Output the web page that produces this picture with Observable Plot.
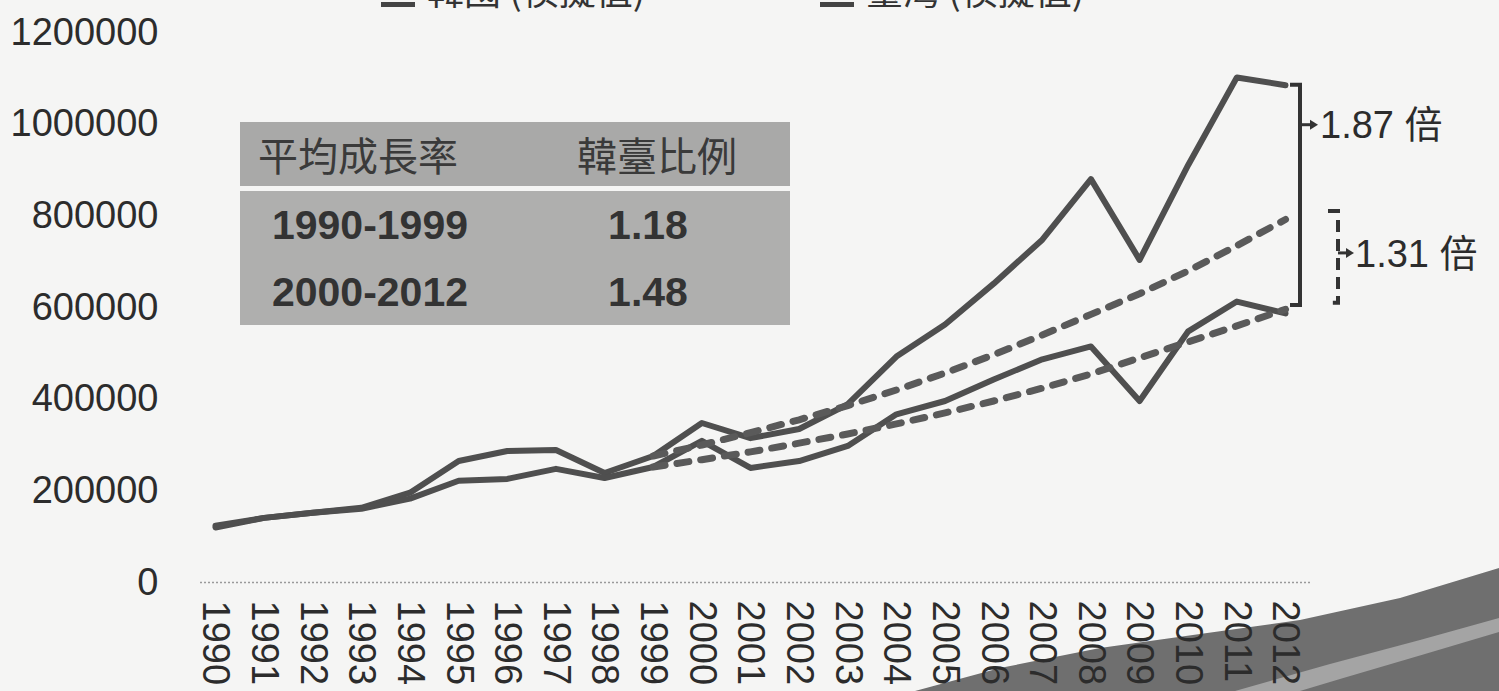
<!DOCTYPE html>
<html><head><meta charset="utf-8">
<script src="https://cdn.jsdelivr.net/npm/d3@7"></script>
<script src="https://cdn.jsdelivr.net/npm/@observablehq/plot@0.6"></script>
<style>
html,body{margin:0;padding:0;background:#f5f5f4;overflow:hidden;}
#wrap{position:relative;width:1499px;height:691px;font-family:"Liberation Sans",Arial,sans-serif;color:#2e2e2e;overflow:hidden;}
#swoosh{position:absolute;left:0;top:0;width:1499px;height:691px;background:#6f6f6f;
  clip-path:polygon(915px 691px,1000px 668px,1100px 648px,1200px 634px,1300px 620px,1400px 598px,1499px 568px,1499px 691px);}
#stripe{position:absolute;left:0;top:0;width:1499px;height:691px;background:#a4a4a4;
  clip-path:polygon(1235px 691px,1330px 664px,1420px 640px,1499px 618px,1499px 632px,1425px 654px,1340px 679px,1300px 691px);}
#chart{position:absolute;left:0;top:0;}
#legend{position:absolute;left:0;top:0;width:1499px;height:40px;font-family:"Noto Sans CJK TC",sans-serif;font-size:37px;}
#legend span{position:absolute;top:-33px;white-space:nowrap;line-height:44px;color:#333;}
#legend i{position:absolute;top:2px;height:5px;width:34px;background:#444;}
#table{position:absolute;left:240px;top:122px;width:550px;height:203px;}
.row{position:absolute;left:0;width:550px;display:flex;align-items:center;}
.hdr{top:0;height:64px;background:#a9a9a8;font-family:"Noto Sans CJK TC",sans-serif;font-size:40px;font-weight:400;color:#3a3a3a;}
.body{top:69px;height:134px;background:#afafae;}
.cell{position:absolute;text-align:center;white-space:nowrap;}
.num{font-family:"Liberation Sans",Arial,sans-serif;font-weight:bold;font-size:41px;color:#333;}
</style></head>
<body>
<div id="wrap">
  <div id="swoosh"></div>
  <div id="stripe"></div>
  <div id="chart"></div>
  <div id="legend"></div>
  <div id="table"></div>
</div>
<script>
// ---- data ----
const years = [1990,1991,1992,1993,1994,1995,1996,1997,1998,1999,2000,2001,2002,2003,2004,2005,2006,2007,2008,2009,2010,2011,2012];
const korea  = [124000,141000,152000,163000,196000,265000,287000,289000,239000,276000,348000,315000,335000,389000,493000,563000,652000,748000,880000,704000,911000,1102000,1085000];
const taiwan = [120000,141000,152000,161000,183000,222000,226000,248000,228000,252000,309000,250000,265000,298000,367000,396000,443000,487000,515000,396000,548000,613000,587000];
const simYears  = [1999,2000,2001,2002,2003,2004,2005,2006,2007,2008,2009,2010,2011,2012];
const koreaSim  = [276000,300000,327000,355000,386000,420000,457000,497000,540000,585000,630000,680000,735000,792000];
const taiwanSim = [252000,268000,285000,304000,324000,346000,370000,396000,424000,455000,490000,525000,560000,596000];
const yTicks = [0,200000,400000,600000,800000,1000000,1200000];
const legendLabels = ["韓國 (模擬值)","臺灣 (模擬值)"];
const tableHeaders = ["平均成長率","韓臺比例"];
const periods = ["1990-1999","2000-2012"];
const ratios = ["1.18","1.48"];
const gapLabels = ["1.87 倍","1.31 倍"];

// ---- tables for the library ----
const actual = years.flatMap((yr,i)=>[{year:yr,value:korea[i],s:"韓國"},{year:yr,value:taiwan[i],s:"臺灣"}]);
const sim = simYears.flatMap((yr,i)=>[{year:yr,value:koreaSim[i],s:"韓國(模擬值)"},{year:yr,value:taiwanSim[i],s:"臺灣(模擬值)"}]);

const W = 1499, H = 691;
const plot = Plot.plot({
  width: W, height: H,
  marginLeft: 215, marginRight: 214, marginTop: 32, marginBottom: 109,
  style: {background:"transparent", fontFamily:"'Liberation Sans', Arial, sans-serif", fontSize:"38px", color:"#2c2c2c", overflow:"visible"},
  x: {type:"linear", domain:[years[0], years[years.length-1]], ticks: years, tickFormat: d=>String(d), tickRotate: 90, tickSize: 0, tickPadding: 18, label: null},
  y: {domain:[0,1200000], ticks: yTicks, tickFormat: d3.format("d"), tickSize: 0, tickPadding: 57, label: null},
  marks: [
    Plot.ruleY([0], {stroke:"#9a9a9a", strokeWidth:1.5, strokeDasharray:"2,2", insetLeft:-15, insetRight:-25}),
    Plot.line(actual, {x:"year", y:"value", z:"s", stroke:"#4f4f4f", strokeWidth:6, strokeLinejoin:"round", strokeLinecap:"round"}),
    Plot.line(sim, {x:"year", y:"value", z:"s", stroke:"#5a5a5a", strokeWidth:7, strokeDasharray:"12,12", strokeLinecap:"round"})
  ]
});
document.getElementById("chart").appendChild(plot);

// ---- annotations drawn with the plot's own scales ----
const sx = v => plot.scale("x").apply(v);
const sy = v => plot.scale("y").apply(v);
const svg = d3.select(plot);
const last = years.length - 1, lastS = simYears.length - 1;
const xEnd = sx(years[last]);
const g = svg.append("g").attr("stroke","#333").attr("fill","none");
// solid bracket (actual gap)
const bx = xEnd + 15, yTop = sy(korea[last]), yBot = sy(taiwan[last]) - 8;
g.append("path").attr("stroke-width",4).attr("d",`M${bx-10},${yTop}H${bx}V${yBot}H${bx-10}`);
const ay1 = yTop + 40;
g.append("line").attr("stroke-width",3).attr("x1",bx).attr("x2",bx+12).attr("y1",ay1).attr("y2",ay1);
svg.append("path").attr("fill","#333").attr("d",`M${bx+18},${ay1}l-8,-5v10z`);
svg.append("text").attr("x",bx+20).attr("y",ay1).attr("dy","0.36em").attr("text-anchor","start").attr("font-size",38).attr("fill","#2c2c2c")
  .attr("font-family","'Liberation Sans','Noto Sans CJK TC',sans-serif").text(gapLabels[0]);
// dashed bracket (simulated gap)
const dx2 = xEnd + 53, y2Top = sy(koreaSim[lastS]) - 8, y2Bot = sy(taiwanSim[lastS]) - 6;
g.append("path").attr("stroke-width",4).attr("stroke-dasharray","12,7").attr("d",`M${dx2-10},${y2Top}H${dx2}V${y2Bot}H${dx2-10}`);
const ay2 = (y2Top + y2Bot) / 2 - 4;
g.append("line").attr("stroke-width",3).attr("x1",dx2).attr("x2",dx2+10).attr("y1",ay2).attr("y2",ay2);
svg.append("path").attr("fill","#333").attr("d",`M${dx2+16},${ay2}l-8,-5v10z`);
svg.append("text").attr("x",dx2+17).attr("y",ay2).attr("dy","0.36em").attr("text-anchor","start").attr("font-size",38).attr("fill","#2c2c2c")
  .attr("font-family","'Liberation Sans','Noto Sans CJK TC',sans-serif").text(gapLabels[1]);

// ---- legend (cut off at the top, as in the scan) ----
const leg = document.getElementById("legend");
const legX = [427, 866];
legendLabels.forEach((t,i)=>{
  const mark = document.createElement("i"); mark.style.left = (legX[i]-46)+"px"; leg.appendChild(mark);
  const s = document.createElement("span"); s.textContent = t; s.style.left = legX[i]+"px"; leg.appendChild(s);
});

// ---- table ----
const tb = document.getElementById("table");
const colCenters = [118, 417];
const hdr = document.createElement("div"); hdr.className = "row hdr"; tb.appendChild(hdr);
tableHeaders.forEach((t,i)=>{
  const c = document.createElement("div"); c.className="cell"; c.textContent=t;
  c.style.left = (colCenters[i]-120)+"px"; c.style.width="240px"; hdr.appendChild(c);
});
const body = document.createElement("div"); body.className = "row body"; tb.appendChild(body);
const rowCenters = [34, 101];
periods.forEach((p,r)=>{
  [p, ratios[r]].forEach((t,i)=>{
    const c = document.createElement("div"); c.className="cell num"; c.textContent=t;
    c.style.left = (colCenters[i]-120+(i===0?12:-9))+"px"; c.style.width="240px";
    c.style.top = (rowCenters[r]-24)+"px"; c.style.lineHeight="48px"; body.appendChild(c);
  });
});
</script>
</body></html>
